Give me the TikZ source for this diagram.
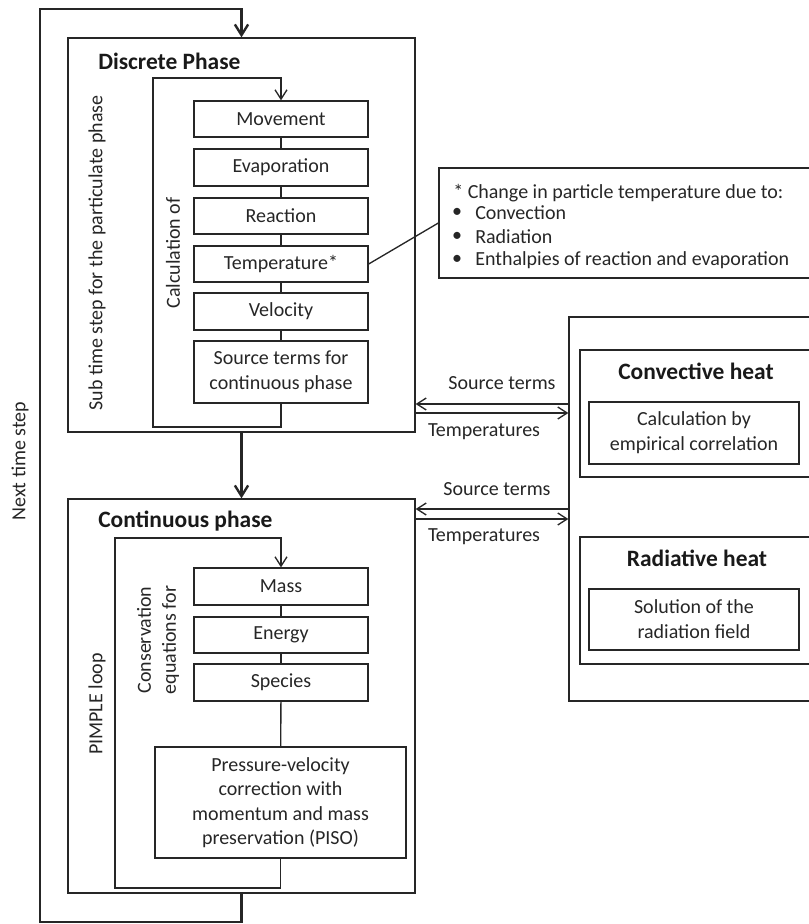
\documentclass[tikz,border=0pt]{standalone}
\usepackage{fontspec}
\setmainfont{Carlito}
\usetikzlibrary{arrows.meta,fit}
\tikzset{
 box/.style={draw=black!85, line width=1pt, inner sep=0pt, rectangle},
 txt/.style={font=\fontsize{15}{18.8}\selectfont, text=black!85, inner sep=0pt, align=center},
 head/.style={font=\fontsize{17.6}{21}\selectfont\bfseries, text=black!90, inner sep=0pt},
 conn/.style={draw=black!85, line width=1pt},
 arr/.style={conn, -{Straight Barb[length=7pt,width=9pt]}},
 bigarr/.style={draw=black!85, line width=1.8pt, -{Straight Barb[length=8pt,width=10pt]}},
}
\begin{document}
\begin{tikzpicture}[x=0.75pt,y=-0.75pt]
\useasboundingbox (0,0) rectangle (809,924);

% main boxes
\node[box, fit={(68,38)(415,432)}] (disc) {};
\node[box, fit={(68,499)(415,893)}] (cont) {};
\node[box, fit={(569,317)(814,701)}] (heat) {};
\node[box, fit={(580,350)(814,477)}] (conv) {};
\node[box, fit={(580,537)(814,664)}] (rad) {};
\node[box, fit={(439,168)(814,278)}] (note) {};

% headings
\node[head, anchor=west] (hdisc) at (98,61) {Discrete Phase};
\node[head, anchor=west] (hcont) at (98,521) {Continuous phase};
\node[head] (hconv) at (696,371) {Convective heat};
\node[head] (hrad) at (697,558) {Radiative heat};

% discrete phase steps
\node[box, fit={(194,101)(368,137)}] (mov) {};
\node[box, fit={(194,149)(368,186)}] (evap) {};
\node[box, fit={(194,198)(368,234)}] (reac) {};
\node[box, fit={(194,246)(368,282)}] (temp) {};
\node[box, fit={(194,293)(368,330)}] (vel) {};
\node[box, fit={(194,341)(368,403)}] (src) {};
\node[txt] (tmov) at (mov) {Movement};
\node[txt] (tevap) at (evap) {Evaporation};
\node[txt] (treac) at (reac) {Reaction};
\node[txt] (ttemp) at (temp) {Temperature*};
\node[txt] (tvel) at (vel) {Velocity};
\node[txt] (tsrc) at (src) {Source terms for\\continuous phase};

% continuous phase steps
\node[box, fit={(194,568)(368,605)}] (mass) {};
\node[box, fit={(194,617)(368,653)}] (ener) {};
\node[box, fit={(194,664)(368,701)}] (spec) {};
\node[box, fit={(155,747)(406,858)}] (piso) {};
\node[txt] (tmass) at (mass) {Mass};
\node[txt] (tener) at (ener) {Energy};
\node[txt] (tspec) at (spec) {Species};
\node[txt, font=\fontsize{15}{18.4}\selectfont] (tpiso) at (piso) {Pressure-velocity\\correction with\\momentum and mass\\preservation (PISO)};

% heat sub-boxes
\node[box, fit={(589,402)(799,464)}] (empc) {};
\node[box, fit={(589,589)(799,650)}] (radf) {};
\node[txt] (tempc) at (empc) {Calculation by\\empirical correlation};
\node[txt] (tradf) at (radf) {Solution of the\\radiation field};

% rotated labels
\node[txt, rotate=90] (lnext) at (20,461) {Next time step};
\node[txt, rotate=90] (lsub) at (97,253) {Sub time step for the particulate phase};
\node[txt, rotate=90] (lcalc) at (173,253) {Calculation of};
\node[txt, rotate=90] (lpimple) at (97,704) {PIMPLE loop};
\node[txt, rotate=90] (lcons) at (158,640) {Conservation\\equations for};

% note text
\node[txt, anchor=west] (n0) at (453,193) {* Change in particle temperature due to:};
\node[txt] (b1) at (457,213) {•};
\node[txt] (b2) at (457,237) {•};
\node[txt] (b3) at (457,260) {•};
\node[txt, anchor=west] (n1) at (475,213) {Convection};
\node[txt, anchor=west] (n2) at (475,237) {Radiation};
\node[txt, anchor=west] (n3) at (475,260) {Enthalpies of reaction and evaporation};

% chain connectors
\draw[conn] (mov) -- (evap);
\draw[conn] (evap) -- (reac);
\draw[conn] (reac) -- (temp);
\draw[conn] (temp) -- (vel);
\draw[conn] (vel) -- (src);
\draw[conn] (mass) -- (ener);
\draw[conn] (ener) -- (spec);
\draw[conn] (spec) -- (piso);
\draw[conn] (temp.east) -- (note.west);

% inner loops
\coordinate (dl1) at (153,427);
\coordinate (dl2) at (153,78);
\draw[arr] (src.south) |- (dl1) -- (dl2) -| (mov.north);
\coordinate (cl1) at (115,888);
\coordinate (cl2) at (115,538);
\draw[arr] (piso.south) |- (cl1) -- (cl2) -| (mass.north);

% outer loop
\coordinate (o1) at (40,922);
\coordinate (o2) at (40,9);
\draw[bigarr] (cont.south) |- (o1) -- (o2) -| (disc.north);
\draw[bigarr] (disc.south) -- (cont.north);

% exchange arrows
\coordinate (y1) at (0,404);
\coordinate (y2) at (0,413);
\coordinate (y3) at (0,509);
\coordinate (y4) at (0,519);
\draw[arr] (heat.west |- y1) -- (disc.east |- y1);
\draw[arr] (disc.east |- y2) -- (heat.west |- y2);
\draw[arr] (heat.west |- y3) -- (cont.east |- y3);
\draw[arr] (cont.east |- y4) -- (heat.west |- y4);
\node[txt] (st1) at (502,383) {Source terms};
\node[txt] (tp1) at (484,432) {Temperatures};
\node[txt] (st2) at (497,489) {Source terms};
\node[txt] (tp2) at (484,537) {Temperatures};
\end{tikzpicture}
\end{document}
